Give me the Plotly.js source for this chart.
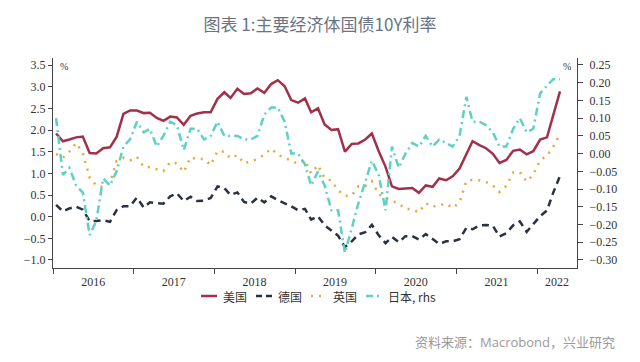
<!DOCTYPE html>
<html>
<head>
<meta charset="utf-8">
<script src="https://cdn.plot.ly/plotly-3.0.1.min.js"></script>
<style>html,body{margin:0;padding:0;background:#fff;}#chart{width:640px;height:362px;}</style>
</head>
<body>
<div id="chart"></div>
<script>
// Monthly end-of-month 10Y yields, Jan 2016 .. Apr 2022
var startYear = 2016;
var nMonths = 76;
var yearLabels = ['2016','2017','2018','2019','2020','2021','2022'];
var yearLabelPos = ['2016-07-01','2017-07-01','2018-07-01','2019-07-01','2020-07-01','2021-07-01','2022-04-01'];

var us = [1.92,1.74,1.78,1.83,1.85,1.47,1.46,1.58,1.60,1.84,2.37,2.45,
          2.45,2.39,2.40,2.28,2.21,2.31,2.29,2.12,2.33,2.38,2.41,2.41,
          2.72,2.87,2.74,2.95,2.83,2.85,2.96,2.86,3.06,3.15,3.01,2.69,
          2.63,2.73,2.41,2.50,2.13,2.00,2.02,1.50,1.68,1.69,1.78,1.92,
          1.51,1.15,0.70,0.64,0.65,0.66,0.55,0.72,0.69,0.88,0.84,0.93,
          1.11,1.44,1.74,1.65,1.58,1.45,1.24,1.31,1.52,1.55,1.44,1.51,
          1.78,1.83,2.32,2.89];

var germany = [0.27,0.12,0.19,0.23,0.16,-0.10,-0.10,-0.08,-0.12,0.15,0.24,0.24,
               0.44,0.21,0.33,0.32,0.30,0.47,0.54,0.36,0.46,0.36,0.37,0.43,
               0.70,0.66,0.50,0.56,0.34,0.30,0.44,0.33,0.47,0.38,0.31,0.24,
               0.15,0.18,-0.07,0.01,-0.20,-0.33,-0.44,-0.70,-0.57,-0.41,-0.36,-0.19,
               -0.43,-0.61,-0.47,-0.59,-0.45,-0.45,-0.53,-0.40,-0.52,-0.63,-0.57,-0.57,
               -0.52,-0.26,-0.29,-0.20,-0.19,-0.21,-0.46,-0.38,-0.20,-0.11,-0.35,-0.18,
               0.01,0.14,0.55,0.94];

var uk = [1.45,1.36,1.50,1.70,1.47,0.90,0.72,0.68,0.78,1.28,1.36,1.30,
          1.38,1.15,1.14,1.09,1.05,1.26,1.23,1.03,1.37,1.33,1.33,1.19,
          1.51,1.50,1.35,1.42,1.23,1.28,1.33,1.43,1.57,1.43,1.36,1.28,
          1.22,1.30,1.00,1.19,0.89,0.83,0.61,0.48,0.49,0.70,0.71,0.82,
          0.52,0.44,0.36,0.30,0.18,0.17,0.10,0.31,0.23,0.26,0.30,0.20,
          0.33,0.82,0.85,0.84,0.80,0.72,0.57,0.71,1.02,1.03,0.81,0.97,
          1.30,1.41,1.61,1.91];

var japan = [0.10,-0.06,-0.04,-0.09,-0.11,-0.23,-0.19,-0.07,-0.09,-0.05,0.02,0.04,
             0.09,0.06,0.07,0.02,0.05,0.09,0.08,0.01,0.07,0.07,0.04,0.05,
             0.09,0.05,0.05,0.05,0.04,0.04,0.05,0.11,0.13,0.13,0.09,0.00,
             0.00,-0.03,-0.09,-0.05,-0.09,-0.16,-0.16,-0.28,-0.21,-0.14,-0.08,-0.02,
             -0.06,-0.16,0.02,-0.04,0.00,0.03,0.02,0.05,0.02,0.04,0.03,0.02,
             0.05,0.16,0.09,0.09,0.08,0.06,0.02,0.02,0.07,0.10,0.06,0.07,
             0.17,0.19,0.21,0.21];

var seriesNames = ['美国','德国','英国','日本, rhs'];

// month positions (mid-month)
var months = [];
for (var i = 0; i < nMonths; i++) {
  var y = startYear + Math.floor(i / 12);
  var m = (i % 12) + 1;
  months.push(y + '-' + (m < 10 ? '0' + m : m) + '-15');
}

var styles = [
  {color: '#a3304a', width: 2.5},
  {color: '#2a3142', width: 2.5, dash: '7px,5px'},
  {color: '#e6a640', width: 2.5, dash: '2px,6px'},
  {color: '#5fd0c6', width: 2.5, dash: '8px,4px,2px,4px'}
];
var seriesData = [us, germany, uk, japan];

var traces = seriesData.map(function (d, k) {
  return {x: months, y: d, name: seriesNames[k], type: 'scatter', mode: 'lines',
          yaxis: k === 3 ? 'y2' : 'y', line: styles[k], showlegend: false};
});
traces.push({x: [yearLabelPos[0]], y: [null], xaxis: 'x2', yaxis: 'y', type: 'scatter',
             mode: 'lines', showlegend: false, hoverinfo: 'skip'});

// manual legend (pixel layout converted to paper coords)
var plotL = 53, plotW = 524, plotB = 268, plotH = 210;
function px(xp) { return (xp - plotL) / plotW; }
function py(yp) { return (plotB - yp) / plotH; }
var legendY = 296;
var legendStarts = [201, 256, 311, 366];
var sampleLen = 16;
var shapes = [], annotations = [];
legendStarts.forEach(function (x0, k) {
  var st = styles[k];
  var sampleDash = [null, '6px,4px', '2px,6px', '7px,4px,2px,4px'][k];
  shapes.push({type: 'line', xref: 'paper', yref: 'paper',
               x0: px(x0), x1: px(x0 + sampleLen), y0: py(legendY), y1: py(legendY),
               line: {color: st.color, width: st.width, dash: sampleDash || 'solid'}});
  annotations.push({text: seriesNames[k], xref: 'paper', yref: 'paper',
                    x: px(x0 + sampleLen + 4), y: py(legendY), xanchor: 'left', yanchor: 'middle',
                    showarrow: false,
                    font: {family: 'Noto Sans CJK SC, sans-serif', size: 12, color: '#333'}});
});

annotations.push(
  {text: '%', xref: 'paper', yref: 'paper', x: px(58), y: py(66), xanchor: 'left', yanchor: 'middle',
   showarrow: false, font: {family: 'Liberation Serif, serif', size: 10, color: '#333'}},
  {text: '%', xref: 'paper', yref: 'paper', x: px(573), y: py(66), xanchor: 'right', yanchor: 'middle',
   showarrow: false, font: {family: 'Liberation Serif, serif', size: 10, color: '#333'}},
  {text: '资料来源：Macrobond，兴业研究', xref: 'paper', yref: 'paper', x: px(617), y: py(342),
   xanchor: 'right', yanchor: 'middle', showarrow: false,
   font: {family: 'Open Sans, Noto Sans CJK SC, sans-serif', size: 13, color: '#9a9a9a'}}
);

var tickFont = {family: 'Liberation Serif, serif', size: 12, color: '#333'};
var xRange = ['2016-01-01', '2022-07-01'];

var layout = {
  width: 640, height: 362,
  paper_bgcolor: '#fff', plot_bgcolor: '#fff',
  margin: {l: 53, r: 63, t: 58, b: 94},
  showlegend: false,
  hovermode: false,
  title: {
    text: '图表 1:主要经济体国债10Y利率',
    x: 0.5, xanchor: 'center', y: 0.931, yanchor: 'middle',
    font: {family: 'Noto Sans CJK SC, sans-serif', size: 17, color: '#6b7383'}
  },
  xaxis: {
    type: 'date',
    range: xRange,
    tick0: '2016-01-01', dtick: 'M12',
    showticklabels: false,
    ticks: 'outside', ticklen: 5, tickcolor: '#444', tickwidth: 1,
    showline: true, linecolor: '#444', linewidth: 1,
    showgrid: false, zeroline: false
  },
  xaxis2: {
    type: 'date', overlaying: 'x', anchor: 'y', side: 'bottom',
    range: xRange,
    tickmode: 'array', tickvals: yearLabelPos, ticktext: yearLabels,
    ticks: '', showline: false, showgrid: false, zeroline: false,
    tickfont: tickFont, ticklabelstandoff: 5
  },
  yaxis: {
    range: [-1.185, 3.662],
    tick0: 0, dtick: 0.5, tickformat: '.1f',
    ticks: 'outside', ticklen: 4, tickcolor: '#444',
    showline: true, linecolor: '#444', linewidth: 1,
    showgrid: false, zeroline: false,
    tickfont: tickFont
  },
  yaxis2: {
    overlaying: 'y', side: 'right',
    range: [-0.3226, 0.2697],
    tick0: 0, dtick: 0.05, tickformat: '.2f',
    ticks: 'outside', ticklen: 5, tickcolor: '#444',
    showline: true, linecolor: '#444', linewidth: 1,
    showgrid: false, zeroline: false,
    tickfont: tickFont, ticklabelstandoff: 4
  },
  shapes: shapes,
  annotations: annotations
};

Plotly.newPlot('chart', traces, layout, {displayModeBar: false, staticPlot: true});
</script>
</body>
</html>
